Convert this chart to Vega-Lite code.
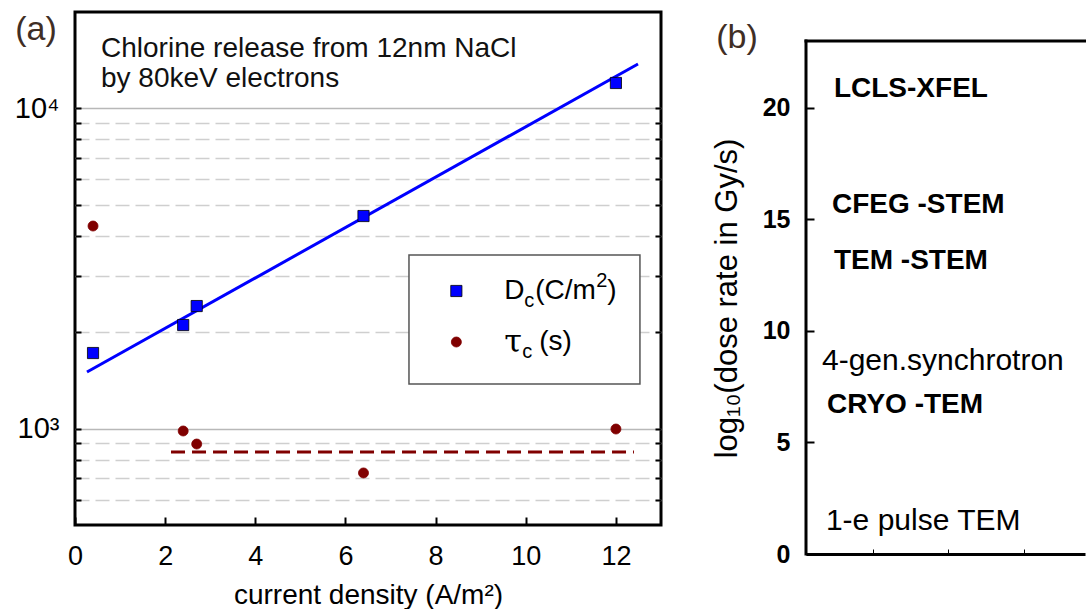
{
  "$schema": "https://vega.github.io/schema/vega-lite/v6.json",
  "background": "white",
  "padding": {"left": 12, "top": 10, "right": 0, "bottom": 0},
  "config": {"font": "Liberation Sans", "view": {"stroke": null}},
  "spacing": 47,
  "datasets": {
    "points": [
      {"series": "Dc", "x": 0.4, "y": 1722},
      {"series": "Dc", "x": 2.4, "y": 2106},
      {"series": "Dc", "x": 2.7, "y": 2414},
      {"series": "Dc", "x": 6.4, "y": 4612},
      {"series": "Dc", "x": 12, "y": 12004},
      {"series": "tau", "x": 0.4, "y": 4292},
      {"series": "tau", "x": 2.4, "y": 983},
      {"series": "tau", "x": 2.7, "y": 895},
      {"series": "tau", "x": 6.4, "y": 727},
      {"series": "tau", "x": 12, "y": 997}
    ],
    "fit": [{"x": 0.266, "y": 1502}, {"x": 12.49, "y": 13760}],
    "taumean": [{"x": 2.13, "y": 845}, {"x": 12.4, "y": 845}],
    "legend": [
      {"series": "Dc", "y": 2690},
      {"series": "tau", "y": 1864}
    ],
    "legendbox": [{"x": 7.409, "x2": 12.533, "y": 3485, "y2": 1378}],
    "note": [
      {"text": "Chlorine release from 12nm NaCl", "y": 14473},
      {"text": "by 80keV electrons", "y": 11664}
    ],
    "bold": [
      {"label": "LCLS-XFEL", "x": 0.483, "y": 20.49},
      {"label": "CFEG -STEM", "x": 0.457, "y": 15.29},
      {"label": "TEM -STEM", "x": 0.483, "y": 12.78},
      {"label": "CRYO -TEM", "x": 0.391, "y": 6.32}
    ],
    "plain": [
      {"label": "4-gen.synchrotron", "x": 0.3245, "y": 8.25},
      {"label": "1-e pulse TEM", "x": 0.377, "y": 1.08}
    ]
  },
  "hconcat": [
    {
      "width": 586,
      "height": 513,
      "view": {"stroke": "black", "strokeWidth": 3},
      "resolve": {"axis": {"y": "independent"}},
      "layer": [
        {
          "data": {"name": "legendbox"},
          "mark": {"type": "rect", "fill": "white", "stroke": "#555555", "strokeWidth": 1.5},
          "encoding": {
            "x": {"field": "x", "type": "quantitative"},
            "x2": {"field": "x2"},
            "y": {"field": "y", "type": "quantitative", "axis": null},
            "y2": {"field": "y2"}
          }
        },
        {
          "data": {"name": "fit"},
          "mark": {"type": "line", "color": "#0000ff", "strokeWidth": 3},
          "encoding": {
            "x": {"field": "x", "type": "quantitative"},
            "y": {"field": "y", "type": "quantitative", "axis": null}
          }
        },
        {
          "data": {"name": "taumean"},
          "mark": {"type": "line", "color": "#800000", "strokeWidth": 3, "strokeDash": [14, 7]},
          "encoding": {
            "x": {"field": "x", "type": "quantitative"},
            "y": {"field": "y", "type": "quantitative",
              "axis": {"orient": "right", "values": [600, 700, 800, 900, 1000, 2000, 3000, 4000, 5000, 6000, 7000, 8000, 9000, 10000],
                "labels": false, "ticks": true, "tickSize": -6, "tickWidth": 2, "tickColor": "black",
                "domain": false, "grid": false, "title": null}}
          }
        },
        {
          "data": {"name": "points"},
          "mark": {"type": "point", "filled": true, "opacity": 1, "strokeWidth": 0.8},
          "encoding": {
            "x": {"field": "x", "type": "quantitative",
              "scale": {"domain": [0, 13], "nice": false, "zero": false},
              "axis": {"values": [0, 2, 4, 6, 8, 10, 12], "domain": false, "grid": false,
                "ticks": true, "tickSize": -8, "tickWidth": 2, "tickColor": "black",
                "labelFontSize": 27, "labelColor": "black", "labelPadding": 26, "labelFlush": false,
                "title": "current density (A/m²)", "titleFontSize": 28, "titleFontWeight": "normal",
                "titleColor": "black", "titleBaseline": "alphabetic", "titleY": 78}},
            "y": {"field": "y", "type": "quantitative",
              "scale": {"type": "log", "domain": [500, 20000], "nice": false},
              "axis": {"orient": "left", "values": [600, 700, 800, 900, 1000, 2000, 3000, 4000, 5000, 6000, 7000, 8000, 9000, 10000],
                "labelExpr": "datum.value == 1000 ? '10³' : datum.value == 10000 ? '10⁴' : ''",
                "labelFontSize": 29, "labelColor": "black", "labelPadding": 22,
                "ticks": true, "tickSize": -6, "tickWidth": 2, "tickColor": "black",
                "domain": false, "grid": true, "gridWidth": 1.5,
                "gridColor": {"condition": {"test": "datum.value == 1000 || datum.value == 10000", "value": "#b8b8b8"}, "value": "#cfcfcf"},
                "gridDash": {"condition": {"test": "datum.value == 1000 || datum.value == 10000", "value": []}, "value": [14, 6]},
                "title": null}},
            "shape": {"field": "series", "type": "nominal", "scale": {"domain": ["Dc", "tau"], "range": ["square", "circle"]}, "legend": null},
            "color": {"field": "series", "type": "nominal", "scale": {"domain": ["Dc", "tau"], "range": ["#0000ff", "#800000"]}, "legend": null},
            "stroke": {"field": "series", "type": "nominal", "scale": {"domain": ["Dc", "tau"], "range": ["#000000", "#800000"]}, "legend": null},
            "size": {"field": "series", "type": "nominal", "scale": {"domain": ["Dc", "tau"], "range": [125, 100]}, "legend": null}
          }
        },
        {
          "data": {"name": "legend"},
          "mark": {"type": "point", "filled": true, "opacity": 1, "strokeWidth": 0.8},
          "encoding": {
            "x": {"datum": 8.46, "type": "quantitative"},
            "y": {"field": "y", "type": "quantitative", "axis": null},
            "shape": {"field": "series", "type": "nominal", "legend": null},
            "color": {"field": "series", "type": "nominal", "legend": null},
            "stroke": {"field": "series", "type": "nominal", "legend": null},
            "size": {"field": "series", "type": "nominal", "legend": null}
          }
        },
        {
          "data": {"name": "legend"},
          "transform": [{"filter": "datum.series == 'Dc'"}],
          "layer": [
            {"mark": {"type": "text", "align": "left", "baseline": "middle", "fontSize": 28, "color": "black", "text": "D"}},
            {"mark": {"type": "text", "align": "left", "baseline": "middle", "fontSize": 20, "color": "black", "dx": 20, "dy": 10, "text": "c"}},
            {"mark": {"type": "text", "align": "left", "baseline": "middle", "fontSize": 28, "color": "black", "dx": 31, "text": "(C/m"}},
            {"mark": {"type": "text", "align": "left", "baseline": "middle", "fontSize": 20, "color": "black", "dx": 92, "dy": -10, "text": "2"}},
            {"mark": {"type": "text", "align": "left", "baseline": "middle", "fontSize": 28, "color": "black", "dx": 103, "text": ")"}}
          ],
          "encoding": {
            "x": {"datum": 9.52, "type": "quantitative"},
            "y": {"field": "y", "type": "quantitative", "axis": null}
          }
        },
        {
          "data": {"name": "legend"},
          "transform": [{"filter": "datum.series == 'tau'"}],
          "layer": [
            {"mark": {"type": "text", "align": "left", "baseline": "middle", "fontSize": 32, "font": "DejaVu Serif", "color": "black", "text": "τ"}},
            {"mark": {"type": "text", "align": "left", "baseline": "middle", "fontSize": 20, "color": "black", "dx": 18, "dy": 10, "text": "c"}},
            {"mark": {"type": "text", "align": "left", "baseline": "middle", "fontSize": 28, "color": "black", "dx": 35, "text": "(s)"}}
          ],
          "encoding": {
            "x": {"datum": 9.52, "type": "quantitative"},
            "y": {"field": "y", "type": "quantitative", "axis": null}
          }
        },
        {
          "data": {"name": "note"},
          "mark": {"type": "text", "align": "left", "baseline": "alphabetic", "fontSize": 28, "color": "#111111"},
          "encoding": {
            "x": {"datum": 0.577, "type": "quantitative"},
            "y": {"field": "y", "type": "quantitative", "axis": null},
            "text": {"field": "text"}
          }
        },
        {
          "data": {"values": [{"label": "(a)"}]},
          "mark": {"type": "text", "align": "center", "baseline": "alphabetic", "fontSize": 34, "color": "#3f2e25"},
          "encoding": {
            "x": {"datum": -0.865, "type": "quantitative"},
            "y": {"datum": 16356, "type": "quantitative", "axis": null},
            "text": {"field": "label"}
          }
        }
      ]
    },
    {
      "width": 279,
      "height": 542,
      "view": {"stroke": null},
      "layer": [
        {
          "data": {"values": [{"x": 0.113, "y": 0, "y2": 23}]},
          "mark": {"type": "rule", "color": "black", "strokeWidth": 3, "strokeCap": "square"},
          "encoding": {
            "x": {"field": "x", "type": "quantitative"},
            "y": {"field": "y", "type": "quantitative"},
            "y2": {"field": "y2"}
          }
        },
        {
          "data": {"values": [{"x": 0.113, "x2": 3.808, "y": 23}]},
          "mark": {"type": "rule", "color": "black", "strokeWidth": 3, "strokeCap": "square"},
          "encoding": {
            "x": {"field": "x", "type": "quantitative"},
            "x2": {"field": "x2"},
            "y": {"field": "y", "type": "quantitative"}
          }
        },
        {
          "data": {"name": "bold"},
          "mark": {"type": "text", "align": "left", "baseline": "alphabetic", "fontSize": 28, "fontWeight": "bold", "color": "black"},
          "encoding": {
            "x": {"field": "x", "type": "quantitative",
              "scale": {"domain": [0.113, 3.808], "nice": false, "zero": false},
              "axis": {"values": [1, 2, 3], "labels": false, "ticks": true, "tickSize": -5, "tickWidth": 1, "tickColor": "black",
                "domain": true, "domainColor": "black", "domainWidth": 3, "grid": false, "title": null}},
            "y": {"field": "y", "type": "quantitative",
              "scale": {"domain": [0, 24.3], "nice": false, "zero": false},
              "axis": {"values": [0, 5, 10, 15, 20], "domain": false, "grid": false,
                "ticks": true, "tickSize": -8, "tickWidth": 2, "tickColor": "black",
                "labelFontSize": 25, "labelFontWeight": "bold", "labelColor": "black", "labelPadding": 24,
                "title": "log₁₀(dose rate in Gy/s)", "titleFontSize": 31, "titleFontWeight": "normal", "titleColor": "black",
                "titleAngle": -90, "titleBaseline": "middle", "titleAlign": "center", "titleX": -79, "titleY": 286}},
            "text": {"field": "label"}
          }
        },
        {
          "data": {"name": "plain"},
          "mark": {"type": "text", "align": "left", "baseline": "alphabetic", "fontSize": 30, "color": "black"},
          "encoding": {
            "x": {"field": "x", "type": "quantitative"},
            "y": {"field": "y", "type": "quantitative"},
            "text": {"field": "label"}
          }
        },
        {
          "data": {"values": [{"label": "(b)"}]},
          "mark": {"type": "text", "align": "center", "baseline": "alphabetic", "fontSize": 34, "color": "#3f2e25"},
          "encoding": {
            "x": {"datum": -0.8, "type": "quantitative"},
            "y": {"datum": 22.69, "type": "quantitative"},
            "text": {"field": "label"}
          }
        }
      ]
    }
  ]
}
